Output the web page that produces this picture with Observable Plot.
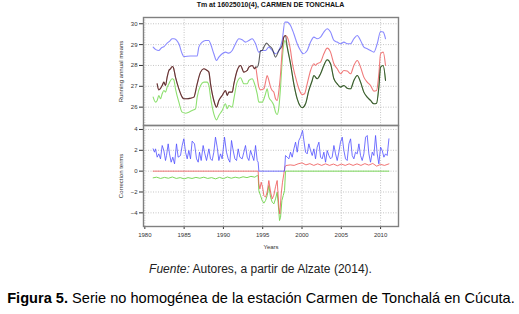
<!DOCTYPE html>
<html>
<head>
<meta charset="utf-8">
<script src="https://cdn.jsdelivr.net/npm/d3@7"></script>
<script src="https://cdn.jsdelivr.net/npm/@observablehq/plot@0.6"></script>
<style>
  html, body { margin: 0; padding: 0; background: #fff; }
  #wrap { position: relative; width: 519px; height: 314px; overflow: hidden; font-family: "Liberation Sans", Arial, sans-serif; }
  #wrap > * { position: absolute; left: 0; }
  .title { top: 1px; width: 541px; text-align: center; font-weight: bold; font-size: 7px; color: #111; white-space: nowrap; }
  .fuente { top: 262px; width: 521px; text-align: center; font-size: 12px; color: #222; white-space: nowrap; }
  .figura { top: 290px; width: 522px; text-align: center; font-size: 14.6px; color: #000; white-space: nowrap; }
</style>
</head>
<body>
<div id="wrap"></div>
<script>
// ---------- data ----------
const titleText = "Tm at 16025010(4), CARMEN DE TONCHALA";
const xTicks = [1980, 1985, 1990, 1995, 2000, 2005, 2010];
const topTicks = [26, 27, 28, 29, 30];
const bottomTicks = [-4, -2, 0, 2, 4];

// Running annual means
const blueMeans = [
[1981.06,28.88],[1981.40,28.76],[1981.78,28.72],[1982.10,28.84],[1982.42,28.90],[1982.84,29.07],[1983.20,29.18],[1983.48,29.28],[1983.69,29.28],
[1984.33,29.04],[1984.75,28.56],[1984.96,28.43],[1985.80,28.45],[1986.66,28.45],[1986.87,28.88],[1987.30,29.12],[1987.72,29.20],
[1988.15,29.20],[1988.36,29.04],[1988.78,28.56],[1989.12,28.24],[1989.42,28.40],[1989.84,28.56],[1990.27,28.64],[1990.69,28.59],
[1991.12,28.72],[1991.54,29.04],[1991.96,29.28],[1992.39,29.23],[1992.81,29.12],[1993.24,29.20],[1993.66,29.28],[1994.09,29.04],
[1994.51,28.64],[1994.93,28.72],[1995.36,28.72],[1995.78,28.88],[1996.21,28.72],[1996.63,28.56],[1997.06,28.72],[1997.48,29.20],
[1997.82,30.08],[1998.12,30.08],[1998.54,29.92],[1998.96,29.52],[1999.39,29.04],[1999.81,28.72],[2000.15,28.56],[2000.66,28.72],
[2001.09,29.12],[2001.51,29.36],[2001.93,29.28],[2002.36,29.36],[2002.78,29.60],[2003.21,29.76],[2003.63,29.60],[2004.06,29.20],
[2004.48,29.12],[2004.90,29.04],[2005.33,29.12],[2005.75,29.04],[2006.18,29.04],[2006.60,29.28],[2007.03,29.44],[2007.45,29.20],
[2007.87,28.88],[2008.30,28.80],[2008.72,28.72],[2009.15,28.64],[2009.57,29.04],[2010.00,29.63],[2010.33,29.60],[2010.63,29.28]
];
const redMeans = [
[1981.57,27.12],[1981.78,26.83],[1982.21,27.04],[1982.42,27.20],[1982.63,27.04],[1982.84,27.44],[1983.06,27.76],[1983.27,27.84],
[1983.48,27.95],[1983.61,27.92],[1983.90,27.44],[1984.33,26.88],[1984.75,26.48],[1984.96,26.40],[1985.39,26.40],[1985.81,26.43],
[1986.24,26.48],[1986.66,27.12],[1987.09,27.68],[1987.51,27.84],[1987.93,27.76],[1988.15,27.68],[1988.36,27.12],[1988.78,26.32],
[1989.12,26.00],[1989.42,26.32],[1989.84,26.56],[1990.27,26.80],[1990.48,26.56],[1990.69,26.72],[1991.12,26.72],[1991.33,27.12],
[1991.75,27.76],[1992.18,28.00],[1992.60,27.68],[1993.03,27.76],[1993.24,27.92],[1993.66,28.00],[1993.96,27.84],[1994.09,27.92],
[1994.30,27.44],[1994.51,26.96],[1994.72,26.83],[1995.15,26.88],[1995.36,27.20],[1995.57,27.52],[1995.78,27.28],[1996.00,26.96],
[1996.21,26.80],[1996.42,26.72],[1996.63,26.40],[1996.84,26.32],[1997.06,26.80],[1997.27,27.60],[1997.48,28.72],[1997.69,29.36],
[1997.90,29.44],[1998.12,29.36],[1998.33,29.12],[1998.54,28.72],[1998.75,28.16],[1999.18,27.44],[1999.60,26.88],[2000.03,26.60],
[2000.32,26.64],[2000.66,27.12],[2001.09,27.76],[2001.51,28.08],[2001.72,28.00],[2001.93,28.08],[2002.36,28.16],[2002.78,28.56],
[2003.21,28.83],[2003.63,28.64],[2004.06,28.08],[2004.48,27.84],[2004.90,27.60],[2005.33,27.76],[2005.75,27.73],[2006.18,27.60],
[2006.60,28.00],[2007.03,28.24],[2007.45,27.92],[2007.87,27.44],[2008.30,27.20],[2008.72,27.04],[2009.15,26.77],[2009.49,26.80],
[2009.78,27.60],[2010.00,28.56],[2010.33,28.64],[2010.63,28.00]
];
const blackMid = [
[1994.09,27.92],[1994.30,27.92],[1994.51,28.16],[1994.72,28.72],[1994.93,28.72],[1995.15,28.88],[1995.49,29.07],[1995.78,28.96],
[1996.21,28.80],[1996.63,28.40],[1997.06,28.72],[1997.48,28.96],[1997.69,29.36],[1997.90,29.44]
];
const greenMeans = [
[1981.06,26.48],[1981.36,26.24],[1981.57,26.32],[1981.78,26.56],[1981.99,26.40],[1982.21,26.64],[1982.42,26.80],[1982.63,26.72],
[1982.84,26.96],[1983.06,27.12],[1983.27,27.28],[1983.48,27.36],[1983.69,27.31],[1983.90,26.88],[1984.33,26.24],[1984.75,25.76],
[1985.18,25.71],[1985.60,25.76],[1986.02,25.84],[1986.45,25.92],[1986.66,26.48],[1987.09,27.04],[1987.51,27.20],[1987.93,27.20],
[1988.15,27.04],[1988.36,26.48],[1988.78,25.68],[1989.12,25.39],[1989.42,25.60],[1989.84,25.84],[1990.27,26.16],[1990.48,25.92],
[1990.69,26.08],[1991.12,26.00],[1991.33,26.40],[1991.75,27.20],[1992.18,27.41],[1992.60,27.12],[1993.03,27.12],[1993.24,27.28],
[1993.66,27.36],[1993.96,27.12],[1994.30,26.64],[1994.51,26.24],[1994.93,26.24],[1995.36,26.64],[1995.57,26.88],[1995.78,26.48],
[1996.21,26.24],[1996.42,26.08],[1996.63,25.76],[1996.84,25.65],[1997.06,26.00],[1997.27,26.96],[1997.48,28.24],[1997.69,29.04],
[1997.82,29.20],[1998.12,28.88],[1998.54,28.08],[1998.96,27.12],[1999.39,26.40],[1999.81,26.03],[2000.03,25.97],[2000.45,26.16],
[2000.87,26.80],[2001.30,27.28],[2001.51,27.52],[2001.93,27.36],[2002.36,27.60],[2002.78,28.00],[2003.21,28.27],[2003.63,28.08],
[2004.06,27.36],[2004.48,27.12],[2004.90,26.96],[2005.33,27.04],[2005.75,26.91],[2006.18,26.88],[2006.60,27.28],[2007.03,27.52],
[2007.45,27.20],[2007.87,26.72],[2008.30,26.48],[2008.72,26.32],[2009.15,26.16],[2009.49,26.19],[2009.78,26.96],[2010.00,27.92],
[2010.33,28.00],[2010.63,27.28]
];

// Correction terms
const blueCorr = [
[1981.06,2.14],[1981.23,1.82],[1981.36,2.14],[1981.57,1.34],[1981.78,1.66],[1981.99,1.18],[1982.21,2.46],[1982.42,1.98],[1982.63,1.02],
[1982.76,1.50],[1982.97,2.62],[1983.14,1.66],[1983.35,0.86],[1983.56,1.34],[1983.78,0.70],[1984.03,2.62],[1984.24,1.34],[1984.54,1.50],
[1984.75,2.46],[1984.96,3.10],[1985.18,1.82],[1985.39,1.18],[1985.60,1.98],[1985.81,1.18],[1986.02,2.88],[1986.32,2.62],[1986.58,1.18],
[1986.79,0.86],[1986.96,1.82],[1987.17,1.02],[1987.42,2.46],[1987.64,1.66],[1987.85,1.02],[1988.15,2.14],[1988.36,1.18],[1988.57,1.02],
[1988.78,1.82],[1988.99,3.26],[1989.21,2.30],[1989.42,1.02],[1989.63,1.66],[1989.84,1.18],[1990.14,3.26],[1990.39,1.82],[1990.61,1.18],
[1990.82,0.86],[1991.03,2.94],[1991.24,1.98],[1991.46,1.18],[1991.67,1.02],[1991.88,2.14],[1992.09,1.34],[1992.39,1.18],[1992.60,1.82],
[1992.81,2.46],[1993.03,1.34],[1993.24,1.02],[1993.45,1.98],[1993.66,1.50],[1993.87,1.02],[1994.09,2.46],[1994.30,1.02],[1994.42,0.86],
[1994.51,0],[1997.78,0],[1997.90,1.50],[1998.12,1.34],[1998.33,1.18],[1998.54,1.82],[1998.75,1.34],[1998.97,2.14],[1999.18,2.78],
[1999.39,1.82],[1999.60,2.94],[1999.81,3.26],[2000.07,3.90],[2000.24,2.94],[2000.45,1.82],[2000.66,1.66],[2000.87,2.62],[2001.09,1.98],
[2001.30,1.50],[2001.51,2.14],[2001.72,1.18],[2001.93,2.30],[2002.15,2.78],[2002.36,1.34],[2002.57,1.18],[2002.78,1.82],[2003.00,0.86],
[2003.21,1.98],[2003.42,1.50],[2003.63,1.18],[2003.84,1.34],[2004.06,2.46],[2004.27,1.66],[2004.48,1.02],[2004.69,1.82],[2004.90,2.78],
[2005.12,3.26],[2005.33,1.98],[2005.54,1.18],[2005.75,1.02],[2005.97,2.62],[2006.18,3.10],[2006.39,1.50],[2006.60,1.18],[2006.81,1.82],
[2007.03,1.66],[2007.24,2.62],[2007.45,1.50],[2007.66,1.02],[2007.87,1.66],[2008.09,3.26],[2008.30,3.42],[2008.51,1.66],[2008.72,0.86],
[2008.94,1.82],[2009.15,1.50],[2009.36,3.42],[2009.57,1.66],[2009.78,0.70],[2010.00,2.30],[2010.21,1.98],[2010.42,1.34],[2010.63,1.66],
[2010.84,1.50],[2011.06,3.10]
];
const redCorr = [
[1981.06,0],[1994.42,0],[1994.51,-1.22],[1994.64,-1.70],[1994.81,-1.06],[1994.98,-1.54],[1995.15,-2.34],[1995.36,-2.50],[1995.57,-2.00],
[1995.78,-0.90],[1996.00,-2.00],[1996.21,-2.66],[1996.42,-2.30],[1996.63,-1.50],[1996.84,-0.90],[1997.06,-3.46],[1997.18,-4.10],
[1997.35,-2.20],[1997.52,-1.06],[1997.69,-0.26],[1997.82,0.40],[1997.95,0.54],[1998.50,0.60],[1999.00,0.55],[1999.50,0.70],
[2000.00,0.80],[2000.50,0.60],[2001.00,0.72],[2001.50,0.55],[2002.00,0.70],[2002.50,0.55],[2003.00,0.70],[2003.50,0.55],[2004.00,0.68],
[2004.50,0.52],[2005.00,0.68],[2005.50,0.55],[2006.00,0.70],[2006.50,0.55],[2007.00,0.70],[2007.50,0.55],[2008.00,0.72],[2008.50,0.58],
[2009.00,0.74],[2009.50,0.48],[2010.00,0.65],[2010.50,0.55],[2011.06,0.70]
];
const greenCorr = [
[1981.06,-0.64],[1981.50,-0.58],[1982.00,-0.70],[1982.50,-0.60],[1983.00,-0.68],[1983.50,-0.56],[1984.00,-0.70],[1984.50,-0.62],
[1985.00,-0.74],[1985.50,-0.62],[1986.00,-0.70],[1986.50,-0.60],[1987.00,-0.68],[1987.50,-0.58],[1988.00,-0.70],[1988.50,-0.62],
[1989.00,-0.74],[1989.50,-0.60],[1990.00,-0.72],[1990.50,-0.56],[1991.00,-0.68],[1991.50,-0.58],[1992.00,-0.66],[1992.50,-0.54],
[1993.00,-0.62],[1993.50,-0.50],[1994.00,-0.58],[1994.30,-0.42],[1994.42,-0.45],[1994.51,-1.86],[1994.72,-2.34],[1994.93,-2.82],
[1995.15,-3.07],[1995.36,-2.82],[1995.57,-2.34],[1995.78,-1.38],[1996.00,-2.50],[1996.21,-2.98],[1996.42,-3.14],[1996.63,-2.66],
[1996.84,-2.02],[1996.97,-3.14],[1997.14,-4.74],[1997.27,-4.42],[1997.44,-2.82],[1997.61,-2.34],[1997.78,-1.86],[1997.90,0],[2011.06,0]
];

// black (original) line: follows red before the break, its own path in the middle, green after
const blackMeans = [
  ...redMeans.filter(d => d[0] < 1994.09),
  ...blackMid,
  ...greenMeans.filter(d => d[0] > 1997.95)
];

// ---------- drawing ----------
const FONT = "Liberation Sans, Arial, sans-serif";
const xDomain = [1979.83, 2012.28];
const gridStyle = {stroke: "#b8b8b8", strokeOpacity: 1, strokeDasharray: "1,1.5", strokeWidth: 0.8};
const X = d => d[0], Y = d => d[1];

const topChart = Plot.plot({
  width: 519, height: 125,
  marginTop: 17, marginBottom: 0, marginLeft: 143, marginRight: 121,
  style: {fontFamily: FONT, fontSize: "6px", background: "transparent", overflow: "visible"},
  x: {domain: xDomain, axis: null},
  y: {domain: [25.12, 30.3]},
  marks: [
    Plot.gridX(xTicks, gridStyle),
    Plot.gridY(topTicks, gridStyle),
    Plot.axisY(topTicks, {tickSize: 4, tickPadding: 2, fontSize: 6, color: "#333",
      label: "Running annual means", labelAnchor: "center", labelArrow: "none", labelOffset: 25}),
    Plot.line(blueMeans, {x: X, y: Y, stroke: "#8a8aff", strokeWidth: 1.1, curve: "monotone-x"}),
    Plot.line(greenMeans, {x: X, y: Y, stroke: "#8ee070", strokeWidth: 1.1, curve: "monotone-x"}),
    Plot.line(redMeans, {x: X, y: Y, stroke: "#f07a7a", strokeWidth: 1.1, curve: "monotone-x"}),
    Plot.line(blackMeans, {x: X, y: Y, stroke: "#1a1a1a", strokeOpacity: 0.7, strokeWidth: 1.1, curve: "monotone-x"}),
    Plot.frame({stroke: "#808080", strokeWidth: 1.4})
  ]
});

const bottomChart = Plot.plot({
  width: 519, height: 260 - 125,
  marginTop: 0, marginBottom: 34, marginLeft: 143, marginRight: 121,
  style: {fontFamily: FONT, fontSize: "6px", background: "transparent", overflow: "visible"},
  x: {domain: xDomain},
  y: {domain: [-5.31, 4.38]},
  marks: [
    Plot.gridX(xTicks, gridStyle),
    Plot.gridY(bottomTicks, gridStyle),
    Plot.axisY(bottomTicks, {tickSize: 4, tickPadding: 2, fontSize: 6, color: "#333",
      label: "Correction terms", labelAnchor: "center", labelArrow: "none", labelOffset: 25}),
    Plot.axisX(xTicks, {tickSize: 3, tickPadding: 3, fontSize: 6, color: "#333", tickFormat: d => String(d),
      label: "Years", labelAnchor: "center", labelArrow: "none", labelOffset: 22}),
    Plot.line(greenCorr, {x: X, y: Y, stroke: "#7cd85a", strokeWidth: 1}),
    Plot.line(redCorr, {x: X, y: Y, stroke: "#ee5c5c", strokeOpacity: 0.85, strokeWidth: 1}),
    Plot.line(blueCorr, {x: X, y: Y, stroke: "#5050ff", strokeOpacity: 0.8, strokeWidth: 1}),
    Plot.frame({stroke: "#808080", strokeWidth: 1.4})
  ]
});

const wrap = document.getElementById("wrap");
const t = document.createElement("div");
t.className = "title"; t.textContent = titleText;
wrap.appendChild(t);
topChart.style.top = "0px"; topChart.style.position = "absolute";
bottomChart.style.top = "125px"; bottomChart.style.position = "absolute";
wrap.appendChild(topChart);
wrap.appendChild(bottomChart);
const f = document.createElement("div");
f.className = "fuente";
f.innerHTML = "<i>Fuente:</i> Autores, a partir de Alzate (2014).";
wrap.appendChild(f);
const g = document.createElement("div");
g.className = "figura";
g.innerHTML = "<b>Figura 5.</b> Serie no homogénea de la estación Carmen de Tonchalá en Cúcuta.";
wrap.appendChild(g);
</script>
</body>
</html>
